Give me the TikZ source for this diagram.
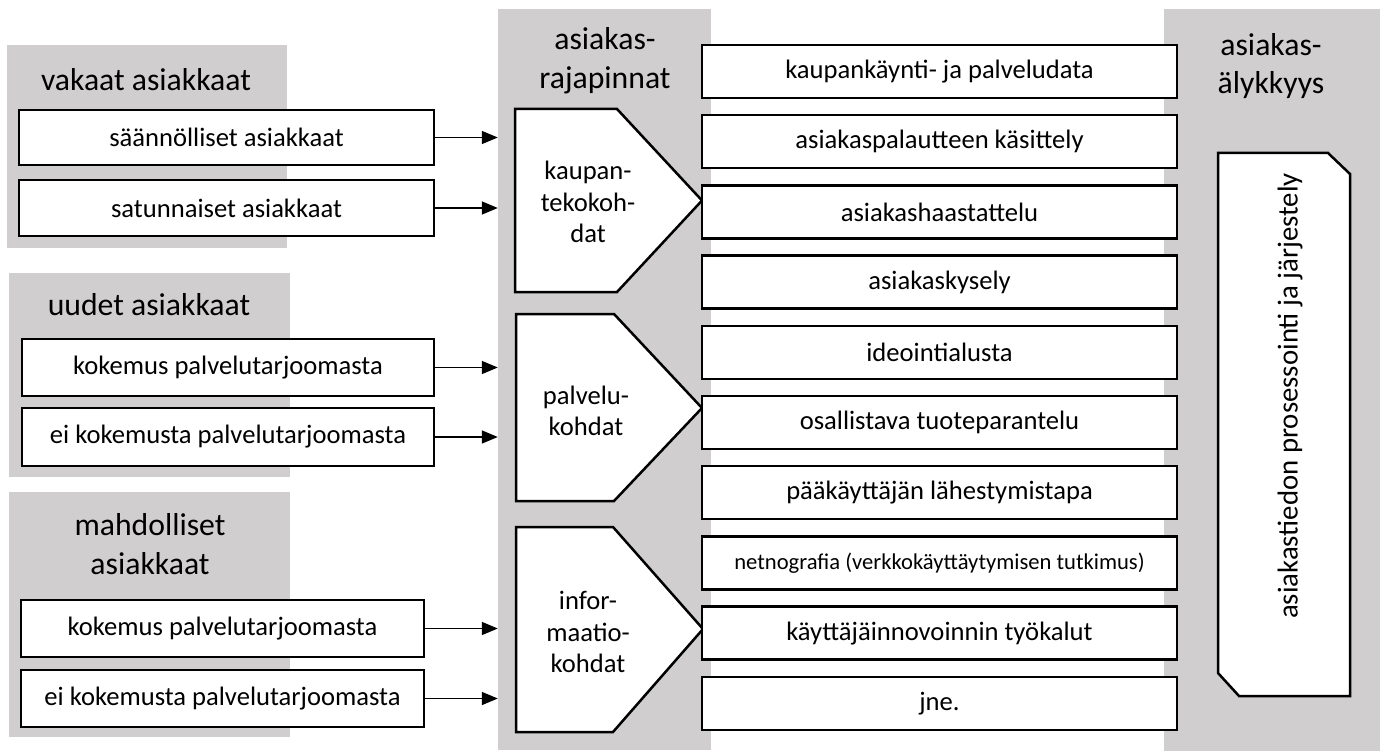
\documentclass[tikz,border=0pt]{standalone}
\usepackage{fontspec}
\setmainfont{Carlito}
\usetikzlibrary{arrows.meta}
\definecolor{panelgray}{RGB}{208,206,206}
\newcommand{\titlefont}{\fontsize{31.7}{38.7}\selectfont}
\newcommand{\boxfont}{\fontsize{26.6}{31.7}\selectfont}
\newcommand{\netfont}{\fontsize{22.6}{27}\selectfont}
\begin{document}
\begin{tikzpicture}[x=1pt, y=-1pt,
    panel/.style={fill=panelgray, inner sep=0pt},
    heading/.style={font=\titlefont, align=center, inner sep=0pt},
    custbox/.style={draw, line width=2.5pt, fill=white, inner sep=0pt, font=\boxfont},
    touchbox/.style={draw, line width=2.5pt, fill=white, inner sep=0pt, font=\boxfont,
        minimum width=475pt, minimum height=53pt},
    gate/.style={draw, line width=2.5pt, fill=white, line join=miter},
    gatetext/.style={font=\boxfont, align=center, inner sep=0pt},
    feed/.style={line width=1.5pt, -{Triangle[length=16pt, width=13pt]}}]
    \useasboundingbox (0,0) rectangle (1380,751);

    % Gray panels
    \node[panel, minimum width=280pt, minimum height=203pt] (vakaat) at (147,146.5) {};
    \node[panel, minimum width=281pt, minimum height=204pt] (uudet) at (149.5,375) {};
    \node[panel, minimum width=281pt, minimum height=245pt] (mahd) at (149.5,614.5) {};
    \node[panel, minimum width=213pt, minimum height=741pt] (rajap) at (604.5,379.5) {};
    \node[panel, minimum width=216pt, minimum height=742pt] (alyk) at (1272,380) {};

    % Headings
    \node[heading] (hvakaat) at (146,80) {vakaat asiakkaat};
    \node[heading] (huudet) at (149,305) {uudet asiakkaat};
    \node[heading] (hmahd) at (150,544) {mahdolliset\\asiakkaat};
    \node[heading] (hrajap) at (605,61) {asiakas-\\rajapinnat};
    \node[heading] (halyk) at (1271,66) {asiakas-\\älykkyys};

    % Customer groups
    \node[custbox, minimum width=415pt, minimum height=55pt] (v1) at (226.5,137.5) {säännölliset asiakkaat};
    \node[custbox, minimum width=415pt, minimum height=56pt] (v2) at (226.5,208) {satunnaiset asiakkaat};
    \node[custbox, minimum width=412pt, minimum height=57pt] (u1) at (228,367.5) {kokemus palvelutarjoomasta};
    \node[custbox, minimum width=412pt, minimum height=58pt] (u2) at (228,437) {ei kokemusta palvelutarjoomasta};
    \node[custbox, minimum width=403pt, minimum height=57pt] (m1) at (222.5,628.5) {kokemus palvelutarjoomasta};
    \node[custbox, minimum width=403pt, minimum height=57pt] (m2) at (222.5,698.5) {ei kokemusta palvelutarjoomasta};

    % Arrows into the interfaces
    \foreach \src in {v1,v2,u1,u2,m1,m2}
        \draw[feed] (\src.east) -- (\src.east -| rajap.west);

    % Touchpoints
    \draw[gate] (515,109) -- (617,109) -- (702,200.5) -- (617,292) -- (515,292) -- cycle;
    \node[gatetext] (kaupan) at (588,202) {kaupan-\\tekokoh-\\dat};
    \draw[gate] (516,314) -- (614,314) -- (702,408) -- (614,501) -- (516,501) -- cycle;
    \node[gatetext] (palvelu) at (586,411) {palvelu-\\kohdat};
    \draw[gate] (516,527) -- (613,527) -- (703,629) -- (613,732) -- (516,732) -- cycle;
    \node[gatetext] (info) at (588,632) {infor-\\maatio-\\kohdat};

    % Data sources
    \foreach \i/\txt in {0/{kaupankäynti- ja palveludata}, 1/{asiakaspalautteen käsittely},
        2/{asiakashaastattelu}, 3/{asiakaskysely}, 4/{ideointialusta},
        5/{osallistava tuoteparantelu}, 6/{pääkäyttäjän lähestymistapa},
        7/{\netfont netnografia (verkkokäyttäytymisen tutkimus)},
        8/{käyttäjäinnovoinnin työkalut}, 9/{jne.}} {
        \node[touchbox] (src\i) at (939.5,{71.5+70.2*\i}) {\txt};
    }

    % Customer intelligence
    \draw[gate] (1218,153) -- (1328,153) -- (1350,174) -- (1350,696) -- (1239,696) -- (1218,673) -- cycle;
    \node[gatetext, font=\fontsize{28.8}{34}\selectfont, rotate=90] (proc) at (1290,396)
        {asiakastiedon prosessointi ja järjestely};
\end{tikzpicture}
\end{document}
